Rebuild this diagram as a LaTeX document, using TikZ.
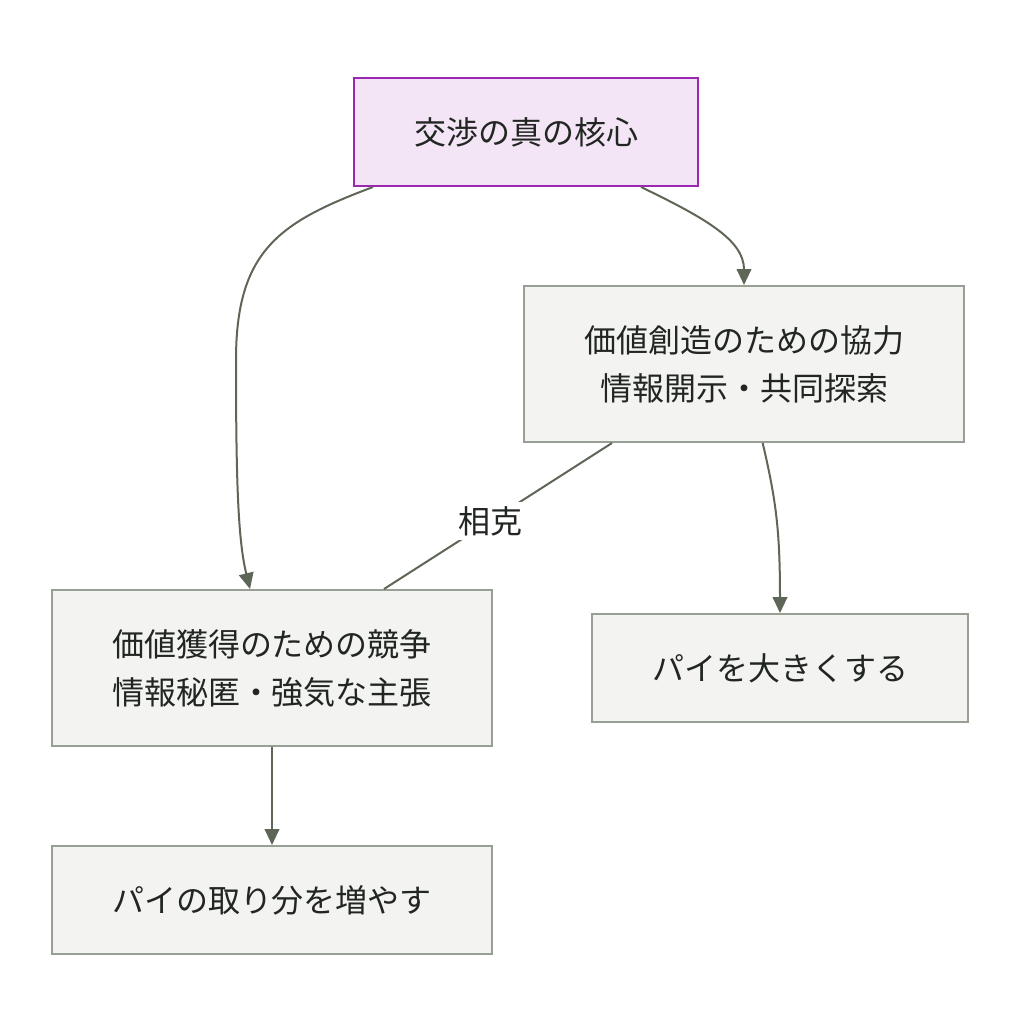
\documentclass[tikz,border=0pt]{standalone}
\usepackage{fontspec}
\newfontfamily\jpfont{Noto Sans CJK JP}
\usetikzlibrary{arrows.meta}

\definecolor{rootfill}{RGB}{243,229,245}
\definecolor{rootdraw}{RGB}{156,39,176}
\definecolor{boxfill}{RGB}{243,244,241}
\definecolor{boxdraw}{RGB}{152,160,150}
\definecolor{linkgray}{RGB}{94,102,88}
\definecolor{txtgray}{RGB}{34,38,34}

\tikzset{
  rootbox/.style={draw=rootdraw,fill=rootfill,line width=1.5pt,minimum width=258pt,minimum height=81pt,inner sep=0pt,align=center,text=txtgray,font=\jpfont\fontsize{24}{36}\selectfont},
  procbox/.style={draw=boxdraw,fill=boxfill,line width=1.5pt,inner sep=0pt,align=center,text=txtgray,font=\jpfont\fontsize{24}{36}\selectfont},
  flowline/.style={draw=linkgray,line width=1.5pt,-{Triangle[length=12pt,width=11pt]}},
  plainline/.style={draw=linkgray,line width=1.5pt},
  linklabel/.style={fill=white,inner sep=3pt,text=txtgray,font=\jpfont\fontsize{24}{36}\selectfont}
}

\begin{document}
\begin{tikzpicture}[x=0.75pt,y=0.75pt,yscale=-1,xscale=1]
\useasboundingbox (0,0) rectangle (1020,1036);

% nodes
\node[rootbox] (core) at (526,132) {交渉の真の核心};
\node[procbox,minimum width=330pt,minimum height=117pt] (create) at (744,364) {価値創造のための協力\\情報開示・共同探索};
\node[procbox,minimum width=330pt,minimum height=117pt] (claim) at (272,668) {価値獲得のための競争\\情報秘匿・強気な主張};
\node[procbox,minimum width=282pt,minimum height=81pt] (grow) at (780,668) {パイを大きくする};
\node[procbox,minimum width=330pt,minimum height=81pt] (share) at (272,900) {パイの取り分を増やす};

% links
\draw[flowline] ([xshift=15pt]core.south west) .. controls (280,222) and (236,250) .. (236,360) .. controls (236,480) and (238,540) .. ([xshift=-16.5pt]claim.north);
\draw[flowline] ([xshift=-43.5pt]core.south east) .. controls (705,218) and (744,240) .. (create.south |- create.north);
\draw[flowline] ([xshift=14pt]create.south) .. controls (776,500) and (780,530) .. (grow.north);
\draw[flowline] (claim.south) -- (share.north);
\draw[plainline] ([xshift=-99pt]create.south) -- node[linklabel,pos=0.535] (clash) {相克} ([xshift=84pt]claim.north);

\end{tikzpicture}
\end{document}
